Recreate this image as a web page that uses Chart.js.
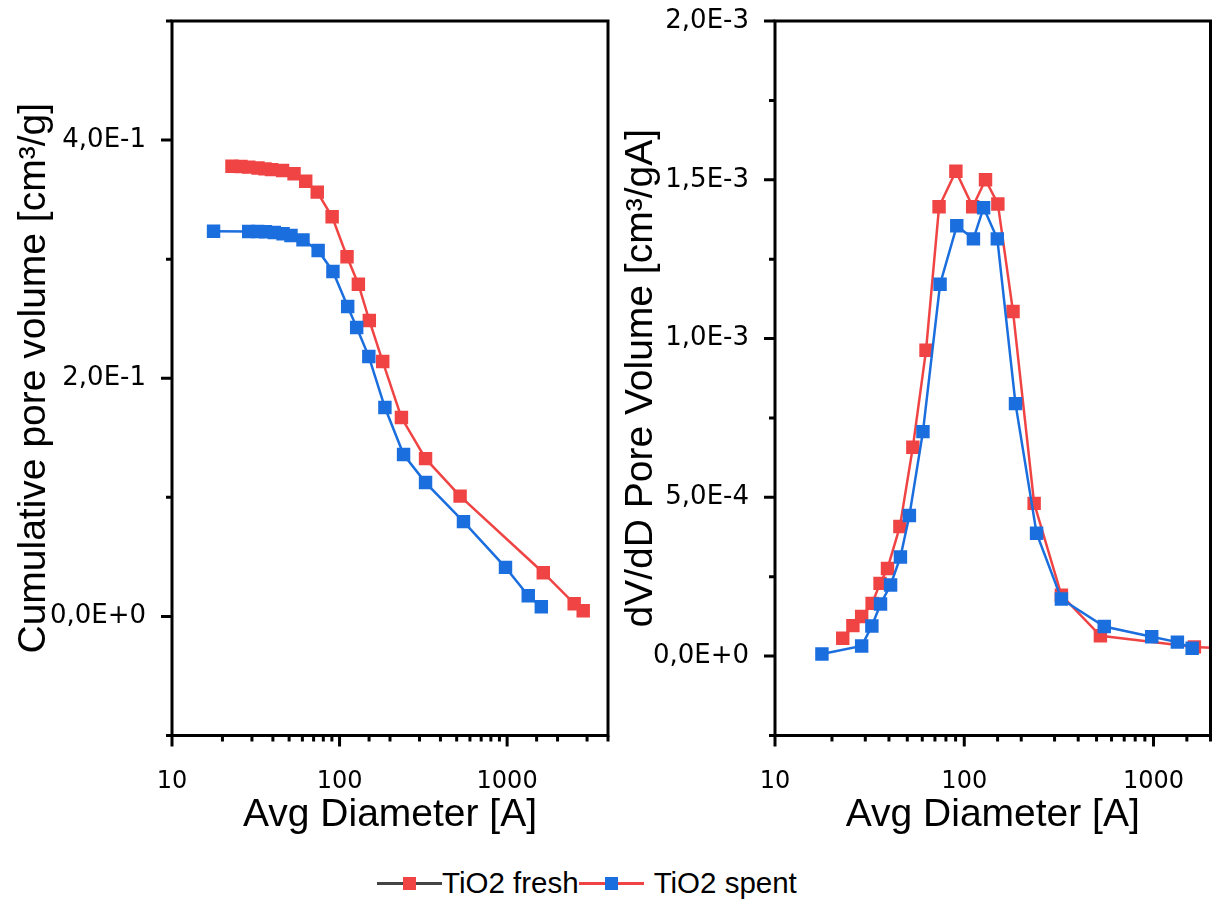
<!DOCTYPE html>
<html>
<head>
<meta charset="utf-8">
<script src="https://cdn.jsdelivr.net/npm/chart.js@4.4.1/dist/chart.umd.min.js"></script>
<style>
  html, body { margin: 0; padding: 0; background: #fff; width: 1212px; height: 900px; overflow: hidden; }
  #left { position: absolute; left: 0; top: 0; }
  #right { position: absolute; left: 615px; top: 0; }
  #legend { position: absolute; left: 377px; top: 866px; height: 34px; display: flex; align-items: center;
            font-family: 'Liberation Sans', Arial, sans-serif; font-size: 29.5px; color: #000; white-space: nowrap; }
  .sample { position: relative; width: 65px; height: 34px; }
  .sample .ln { position: absolute; left: 0; right: 0; top: 16px; height: 2.5px; }
  .sample .mk { position: absolute; left: 26px; top: 11px; width: 13px; height: 13px; }
</style>
</head>
<body>
<canvas id="left" width="620" height="860"></canvas>
<canvas id="right" width="605" height="860"></canvas>
<div id="legend">
  <div class="sample"><div class="ln" style="background:#444"></div><div class="mk" style="background:#F04444"></div></div>
  <span>TiO2 fresh</span>
  <div class="sample"><div class="ln" style="background:#F04444"></div><div class="mk" style="background:#1A6EDE"></div></div>
  <span style="margin-left:10px">TiO2 spent</span>
</div>
<script>
// average pore diameter [A]
const freshDiam = [22.8, 25.8, 28.7, 32.6, 35.9, 39.3, 45.7, 53.5, 62.8, 73.6, 90.3, 110.8, 129.5, 150.5, 181, 234, 326, 524, 1644, 2513, 2845];
const spentDiam = [17.7, 28.7, 32.5, 36.1, 40.8, 46, 51.3, 60.5, 74.5, 91.3, 111.8, 126.5, 149.5, 186.5, 241, 326, 549, 978, 1337, 1600];

// cumulative pore volume [cm3/g]
const freshCum = [0.378, 0.3778, 0.3773, 0.3765, 0.3758, 0.3752, 0.3745, 0.3717, 0.3655, 0.3563, 0.3356, 0.302, 0.279, 0.2485, 0.214, 0.167, 0.1325, 0.101, 0.0367, 0.0107, 0.0048];
const spentCum = [0.3235, 0.3233, 0.3232, 0.323, 0.3224, 0.3213, 0.3199, 0.3162, 0.3073, 0.2897, 0.2602, 0.2426, 0.2182, 0.1754, 0.1359, 0.1124, 0.0796, 0.0412, 0.0174, 0.0081];

// dV/dD pore volume [cm3/gA]
const freshDvdd = [5.6e-5, 9.6e-5, 1.25e-4, 1.66e-4, 2.29e-4, 2.76e-4, 4.08e-4, 6.58e-4, 9.63e-4, 1.415e-3, 1.527e-3, 1.415e-3, 1.5e-3, 1.424e-3, 1.085e-3, 4.81e-4, 1.92e-4, 6.4e-5, 2.9e-5, 2.4e-5, 2.2e-5];
const spentDvdd = [6.9e-6, 3.2e-5, 9.5e-5, 1.64e-4, 2.24e-4, 3.12e-4, 4.43e-4, 7.07e-4, 1.171e-3, 1.355e-3, 1.314e-3, 1.412e-3, 1.314e-3, 7.95e-4, 3.87e-4, 1.8e-4, 9.3e-5, 6.1e-5, 4.4e-5, 2.5e-5];

// labelled ticks
const xTickLabels = [10, 100, 1000];
const leftYLabels = [0, 0.2, 0.4];
const rightYLabels = [0, 5e-4, 1e-3, 1.5e-3, 2e-3];

const RED = '#F04444';
const BLUE = '#1A6EDE';
const FONT = "'Liberation Sans', Arial, sans-serif";
const TICKFONT = "'DejaVu Sans', Verdana, sans-serif";

function near(a, b) {
  return Math.abs(a - b) <= Math.abs(b) * 1e-6 + 1e-12;
}

// 4,0E-1 style
function sci(v) {
  if (Math.abs(v) < 1e-12) return '0,0E+0';
  const e = Math.floor(Math.log10(Math.abs(v)) + 1e-9);
  const m = v / Math.pow(10, e);
  return m.toFixed(1).replace('.', ',') + 'E' + (e >= 0 ? '+' : '-') + Math.abs(e);
}

function pts(xs, ys) {
  return xs.map((x, i) => ({x: x, y: ys[i]}));
}

// box + outward major/minor tick marks, like the original plot
const frameTicks = {
  id: 'frameTicks',
  afterDraw(chart, args, opts) {
    const {ctx, chartArea: a} = chart;
    const xs = chart.scales.x, ys = chart.scales.y;
    ctx.save();
    ctx.strokeStyle = '#000';
    ctx.lineWidth = 3;
    ctx.lineCap = 'butt';
    ctx.strokeRect(a.left, a.top, a.right - a.left, a.bottom - a.top);
    ctx.beginPath();
    xs.ticks.forEach(t => {
      const px = xs.getPixelForValue(t.value);
      const len = xTickLabels.some(m => near(t.value, m)) ? 11 : 6;
      ctx.moveTo(px, a.bottom);
      ctx.lineTo(px, a.bottom + len);
    });
    ys.ticks.forEach(t => {
      const py = ys.getPixelForValue(t.value);
      const len = opts.majors.some(m => near(t.value, m)) ? 11 : 6;
      ctx.moveTo(a.left, py);
      ctx.lineTo(a.left - len, py);
    });
    ctx.stroke();
    ctx.restore();
  }
};

function makeChart(id, cfg) {
  return new Chart(document.getElementById(id), {
    type: 'scatter',
    data: {
      datasets: [
        {
          label: 'TiO2 spent',
          data: pts(spentDiam, cfg.spent),
          showLine: true,
          borderColor: BLUE,
          backgroundColor: BLUE,
          borderWidth: 2.5,
          pointStyle: 'rect',
          pointRadius: 9.5,
          pointBorderWidth: 0,
          order: 0
        },
        {
          label: 'TiO2 fresh',
          data: pts(freshDiam, cfg.fresh),
          showLine: true,
          borderColor: RED,
          backgroundColor: RED,
          borderWidth: 2.5,
          pointStyle: 'rect',
          pointRadius: 9.5,
          pointBorderWidth: 0,
          order: 1
        }
      ]
    },
    options: {
      responsive: false,
      animation: false,
      devicePixelRatio: 1,
      layout: { padding: { left: 0, right: cfg.padRight, top: 21, bottom: 0 } },
      plugins: {
        legend: { display: false },
        tooltip: { enabled: false },
        frameTicks: { majors: cfg.yLabels }
      },
      scales: {
        x: {
          type: 'logarithmic',
          min: 10,
          max: cfg.xMax,
          grid: { display: false },
          border: { display: false },
          afterFit: s => { s.height = 124.5; s.paddingLeft = 0; s.paddingRight = 0; },
          ticks: {
            autoSkip: false,
            maxRotation: 0,
            padding: 24,
            color: '#000',
            font: { family: TICKFONT, size: 24 },
            callback: v => xTickLabels.some(m => near(v, m)) ? String(v) : ''
          },
          title: {
            display: true,
            text: 'Avg Diameter [A]',
            color: '#000',
            font: { family: FONT, size: 39 },
            padding: { top: 0, bottom: 21 }
          }
        },
        y: {
          min: cfg.yMin,
          max: cfg.yMax,
          grid: { display: false },
          border: { display: false },
          afterFit: s => { s.width = cfg.yWidth; s.paddingTop = 0; s.paddingBottom = 0; },
          ticks: {
            stepSize: cfg.yStep,
            autoSkip: false,
            padding: 18,
            color: '#000',
            font: { family: TICKFONT, size: 26 },
            callback: v => cfg.yLabels.some(m => near(v, m)) ? sci(v) : ''
          },
          title: {
            display: true,
            text: cfg.yTitle,
            color: '#000',
            font: { family: FONT, size: 39 },
            padding: { top: cfg.titlePad, bottom: 0 }
          }
        }
      }
    },
    plugins: [frameTicks]
  });
}

makeChart('left', {
  spent: spentCum,
  fresh: freshCum,
  xMax: 4000,
  yMin: -0.1,
  yMax: 0.5,
  yStep: 0.1,
  yLabels: leftYLabels,
  yWidth: 172,
  padRight: 12,
  titlePad: 10.5,
  yTitle: 'Cumulative pore volume [cm³/g]'
});

makeChart('right', {
  spent: spentDvdd,
  fresh: freshDvdd,
  xMax: 2000,
  yMin: -2.5e-4,
  yMax: 2e-3,
  yStep: 2.5e-4,
  yLabels: rightYLabels,
  yWidth: 160,
  padRight: 6.7,
  titlePad: 2.5,
  yTitle: 'dV/dD Pore Volume [cm³/gA]'
});
</script>
</body>
</html>
